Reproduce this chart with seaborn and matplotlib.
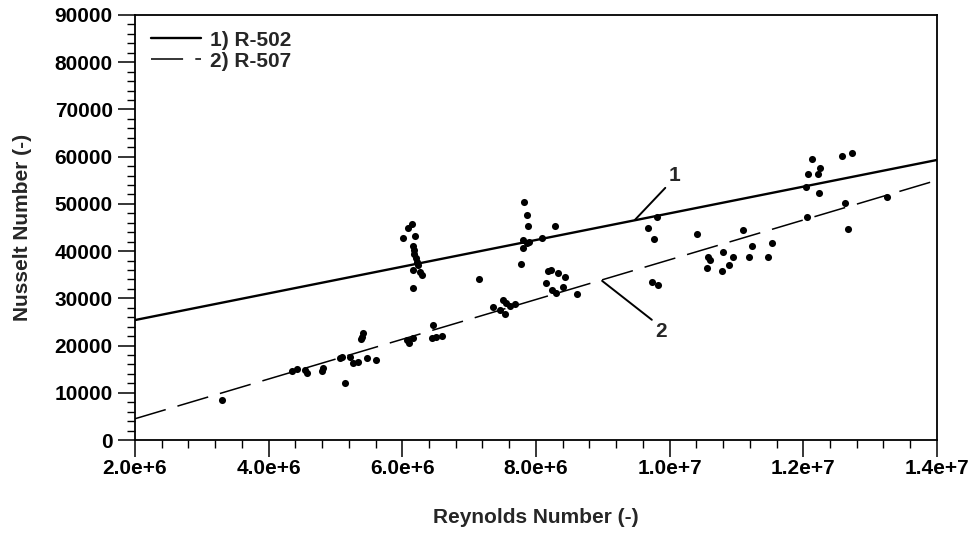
import matplotlib
matplotlib.use("Agg")
import matplotlib.pyplot as plt
import seaborn as sns
import pandas as pd
from matplotlib.ticker import MultipleLocator, FixedLocator

# ---------------- data ----------------
# measured points (Reynolds number in units of 1e6, Nusselt number)
re_meas = [3.30, 4.35, 4.42, 4.57, 4.54, 4.80, 4.82, 5.07, 5.10, 5.14, 5.22, 5.26, 5.34,
           5.40, 5.41, 5.38, 5.47, 5.61, 6.07, 6.16, 6.10, 6.44, 6.46, 6.50, 6.59,
           6.145, 6.085, 6.01, 6.19, 6.16, 6.17, 6.18, 6.20, 6.22, 6.24, 6.16, 6.26, 6.29, 6.16,
           7.15, 7.82, 7.87, 7.88, 8.28, 7.81, 7.87, 7.81, 7.90, 8.09, 7.78,
           8.18, 8.22, 8.33, 8.43, 8.15, 8.40, 8.24, 8.30, 8.61,
           7.36, 7.51, 7.55, 7.46, 7.54, 7.61, 7.69,
           9.68, 9.77, 9.81, 9.74, 9.83,
           10.41, 11.10, 10.57, 10.60, 10.56, 10.80, 10.78, 10.95, 10.89, 11.23, 11.19, 11.53, 11.47,
           12.06, 12.04, 12.24, 12.07, 12.22, 12.25, 12.13, 12.58, 12.73, 12.62, 12.67, 13.25]
nu_meas = [8500, 14600, 15000, 14200, 14800, 14600, 15200, 17400, 17600, 12100, 17600, 16300, 16500,
           21800, 22700, 21400, 17400, 17000, 21200, 21600, 20600, 21600, 24400, 21800, 22000,
           45800, 44900, 42800, 43200, 41100, 40300, 39400, 38600, 37700, 37100, 36000, 35600, 35000, 32200,
           34100, 50400, 47700, 45300, 45300, 42400, 41700, 40700, 42000, 42800, 37300,
           35800, 35900, 35400, 34500, 33300, 32400, 31800, 31100, 30900,
           28200, 29700, 29000, 27500, 26700, 28400, 28800,
           44900, 42600, 47200, 33500, 32800,
           43600, 44500, 38800, 38100, 36400, 39800, 35800, 38800, 37100, 41100, 38800, 41700, 38800,
           47200, 53600, 52300, 56400, 56400, 57600, 59500, 60200, 60800, 50200, 44700, 51500]

# correlation lines
line_re = [2.0, 14.0]            # in units of 1e6
line1_nu = [25400, 59300]        # 1) R-502
line2_nu = [4500, 55000]         # 2) R-507
line_labels = ["1) R-502", "2) R-507"]

xticks = [2e6, 4e6, 6e6, 8e6, 10e6, 12e6, 14e6]
xtick_labels = ["2.0e+6", "4.0e+6", "6.0e+6", "8.0e+6", "1.0e+7", "1.2e+7", "1.4e+7"]
yticks = [0, 10000, 20000, 30000, 40000, 50000, 60000, 70000, 80000, 90000]
ytick_labels = [str(v) for v in yticks]

# ---------------- plot ----------------
sns.set_theme(style="ticks")
plt.rcParams["font.family"] = ["Liberation Sans", "DejaVu Sans"]
plt.rcParams["font.weight"] = "bold"

FS = 15.0

fig = plt.figure(figsize=(9.78, 5.47), dpi=100)
ax = fig.add_axes([0.138, 0.1956, 0.820, 0.777])

df_pts = pd.DataFrame({"Re": [r * 1e6 for r in re_meas], "Nu": nu_meas})
df_l1 = pd.DataFrame({"Re": [r * 1e6 for r in line_re], "Nu": line1_nu})
df_l2 = pd.DataFrame({"Re": [r * 1e6 for r in line_re], "Nu": line2_nu})

sns.lineplot(data=df_l1, x="Re", y="Nu", color="black", lw=1.7, label=line_labels[0], ax=ax)
sns.lineplot(data=df_l2, x="Re", y="Nu", color="black", lw=1.1,
             linestyle=(0, (21, 8)), label=line_labels[1], ax=ax)
sns.scatterplot(data=df_pts, x="Re", y="Nu", color="black", s=26, linewidth=0, ax=ax, zorder=3)

ax.set_xlim(2e6, 14e6)
ax.set_ylim(0, 90000)
ax.xaxis.set_major_locator(FixedLocator(xticks))
ax.set_xticklabels(xtick_labels)
ax.xaxis.set_minor_locator(MultipleLocator(4e5))
ax.yaxis.set_major_locator(FixedLocator(yticks))
ax.set_yticklabels(ytick_labels)
ax.yaxis.set_minor_locator(MultipleLocator(2000))

ax.tick_params(axis="both", which="major", direction="out", length=12, width=1.1,
               labelsize=FS, color="black", labelcolor="black")
ax.tick_params(axis="both", which="minor", direction="out", length=6, width=1.0, color="black")
ax.tick_params(axis="x", which="major", pad=1.5)
ax.tick_params(axis="y", which="major", pad=4)
for lab in ax.get_xticklabels() + ax.get_yticklabels():
    lab.set_fontweight("bold")

for sp in ax.spines.values():
    sp.set_visible(True)
    sp.set_color("black")
    sp.set_linewidth(1.3)

ax.set_xlabel("Reynolds Number (-)", fontsize=FS, fontweight="bold", labelpad=22)
ax.set_ylabel("Nusselt Number (-)", fontsize=FS, fontweight="bold", labelpad=16)

leg = ax.legend(loc="upper left", frameon=False, handlelength=2.4,
                handletextpad=0.45, labelspacing=0.1, borderaxespad=0.35,
                prop={"weight": "bold", "size": FS})

ax.annotate("1", xy=(9.48e6, 46600), xytext=(10.07e6, 56100), fontsize=FS, fontweight="bold",
            ha="center", va="center",
            arrowprops=dict(arrowstyle="-", color="black", lw=1.4, relpos=(0.0, 0.0),
                            shrinkA=0, shrinkB=0))
ax.annotate("2", xy=(8.99e6, 33700), xytext=(9.87e6, 22900), fontsize=FS, fontweight="bold",
            ha="center", va="center",
            arrowprops=dict(arrowstyle="-", color="black", lw=1.4, relpos=(0.0, 1.0),
                            shrinkA=0, shrinkB=0))

fig.savefig("out.png", dpi=100, facecolor="white")
